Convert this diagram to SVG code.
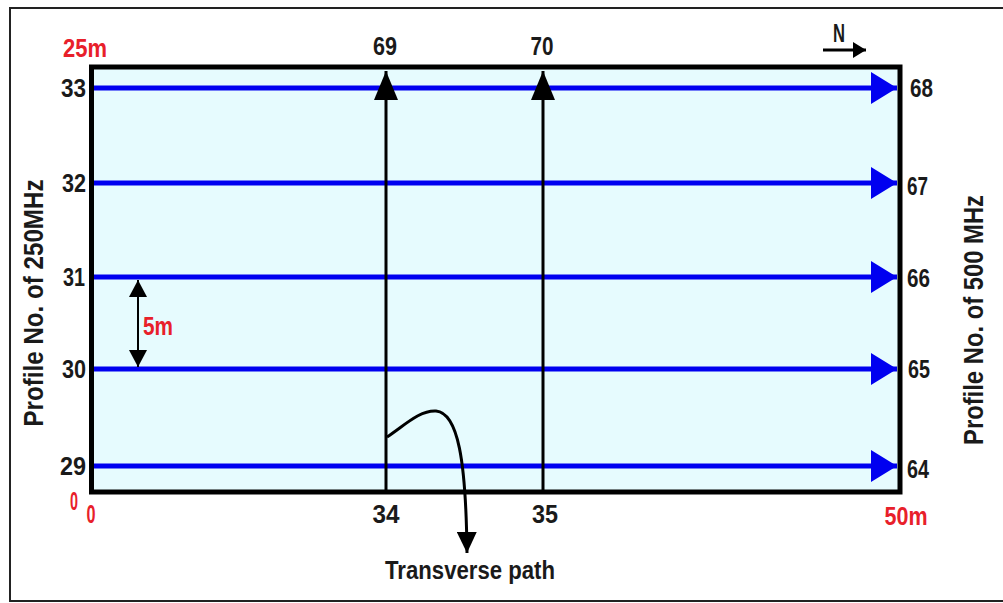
<svg xmlns="http://www.w3.org/2000/svg" width="1003" height="603" viewBox="0 0 1003 603">
<style>
  text { font-family: "Liberation Sans Narrow", "Liberation Sans", Arial, sans-serif; font-weight: bold; }
  .lbl { fill: #1a1a1a; font-size: 26px; }
  .red { fill: #e8202a; font-size: 25px; }
  .axis { fill: #1a1a1a; font-size: 28px; }
  .blue { stroke: #0000f0; stroke-width: 5; fill: none; }
  .blk { stroke: #000; stroke-width: 3; fill: none; }
</style>
<defs>
  <marker id="blueHead" markerUnits="userSpaceOnUse" markerWidth="28" markerHeight="32" refX="26" refY="16" orient="auto" viewBox="0 0 28 32">
    <polygon points="0,0 26,16 0,32" fill="#0000f0"/>
  </marker>
  <marker id="blkHead" markerUnits="userSpaceOnUse" markerWidth="30" markerHeight="24" refX="29" refY="12" orient="auto" viewBox="0 0 30 24">
    <polygon points="0,0 29,12 0,24" fill="#000"/>
  </marker>
  <marker id="pathHead" markerUnits="userSpaceOnUse" markerWidth="22" markerHeight="20" refX="21" refY="10" orient="auto" viewBox="0 0 22 20">
    <polygon points="0,0 21,10 0,20" fill="#000"/>
  </marker>
  <marker id="smallHead" markerUnits="userSpaceOnUse" markerWidth="18" markerHeight="18" refX="17" refY="9" orient="auto" viewBox="0 0 18 18">
    <polygon points="0,0 17,9 0,18" fill="#000"/>
  </marker>
  <marker id="nHead" markerUnits="userSpaceOnUse" markerWidth="14" markerHeight="16" refX="13" refY="8" orient="auto" viewBox="0 0 14 16">
    <polygon points="0,0 13,8 0,16" fill="#000"/>
  </marker>
</defs>

<rect x="0" y="0" width="1003" height="603" fill="#ffffff"/>
<!-- outer frame -->
<rect id="frame" x="10" y="8" width="1000" height="593" fill="none" stroke="#222" stroke-width="2"/>

<!-- survey area -->
<g id="area">
  <rect x="91.5" y="67" width="808.5" height="425" fill="#e6fbfe" stroke="#000" stroke-width="5"/>
</g>

<g id="connectors">
  <!-- 250MHz / 500MHz profiles -->
  <line id="p33" class="blue" x1="94" y1="88" x2="897" y2="88" marker-end="url(#blueHead)"/>
  <line id="p32" class="blue" x1="94" y1="183" x2="897" y2="183" marker-end="url(#blueHead)"/>
  <line id="p31" class="blue" x1="94" y1="277" x2="897" y2="277" marker-end="url(#blueHead)"/>
  <line id="p30" class="blue" x1="94" y1="369" x2="897" y2="369" marker-end="url(#blueHead)"/>
  <line id="p29" class="blue" x1="94" y1="466" x2="897" y2="466" marker-end="url(#blueHead)"/>
  <!-- transverse profiles -->
  <line id="p34" class="blk" x1="386" y1="490" x2="386" y2="71" marker-end="url(#blkHead)"/>
  <line id="p35" class="blk" x1="543" y1="490" x2="543" y2="71" marker-end="url(#blkHead)"/>
  <!-- transverse path curve -->
  <path id="tpath" class="blk" d="M 387 437 C 405 425, 420 410, 436 411 C 458 413, 466 460, 467 553" marker-end="url(#pathHead)"/>
  <!-- 5m spacing -->
  <line id="dim5m" x1="138" y1="290" x2="138" y2="280" stroke="#000" stroke-width="2" marker-end="url(#smallHead)"/>
  <line x1="138" y1="285" x2="138" y2="360" stroke="#000" stroke-width="2"/>
  <line x1="138" y1="355" x2="138" y2="367" stroke="#000" stroke-width="2" marker-end="url(#smallHead)"/>
  <!-- north arrow -->
  <line id="north" x1="823" y1="50" x2="866" y2="50" stroke="#000" stroke-width="3" marker-end="url(#nHead)"/>
</g>

<g id="labels">
  <text class="red" x="63" y="57" textLength="44" lengthAdjust="spacingAndGlyphs">25m</text>
  <text class="lbl" x="385" y="55" text-anchor="middle" textLength="24" lengthAdjust="spacingAndGlyphs">69</text>
  <text class="lbl" x="542" y="55" text-anchor="middle" textLength="23" lengthAdjust="spacingAndGlyphs">70</text>
  <text class="lbl" x="839" y="42" text-anchor="middle" font-size="23" textLength="12" lengthAdjust="spacingAndGlyphs">N</text>

  <text class="lbl" x="86" y="97" text-anchor="end" textLength="25" lengthAdjust="spacingAndGlyphs">33</text>
  <text class="lbl" x="86" y="192" text-anchor="end" textLength="24" lengthAdjust="spacingAndGlyphs">32</text>
  <text class="lbl" x="85" y="286" text-anchor="end" textLength="22" lengthAdjust="spacingAndGlyphs">31</text>
  <text class="lbl" x="86" y="378" text-anchor="end" textLength="24" lengthAdjust="spacingAndGlyphs">30</text>
  <text class="lbl" x="86" y="475" text-anchor="end" textLength="26" lengthAdjust="spacingAndGlyphs">29</text>

  <text class="lbl" x="910" y="97" font-size="24" textLength="23" lengthAdjust="spacingAndGlyphs">68</text>
  <text class="lbl" x="907" y="195" font-size="24" textLength="21" lengthAdjust="spacingAndGlyphs">67</text>
  <text class="lbl" x="907" y="287" font-size="24" textLength="23" lengthAdjust="spacingAndGlyphs">66</text>
  <text class="lbl" x="908" y="378" font-size="24" textLength="22" lengthAdjust="spacingAndGlyphs">65</text>
  <text class="lbl" x="907" y="478" font-size="24" textLength="22" lengthAdjust="spacingAndGlyphs">64</text>

  <text class="red" x="74" y="510" text-anchor="middle" font-size="21" textLength="8" lengthAdjust="spacingAndGlyphs">0</text>
  <text class="red" x="91" y="523" text-anchor="middle" font-size="25" textLength="9" lengthAdjust="spacingAndGlyphs">0</text>
  <text class="lbl" x="386" y="523" text-anchor="middle" textLength="27" lengthAdjust="spacingAndGlyphs">34</text>
  <text class="lbl" x="545" y="523" text-anchor="middle" textLength="26" lengthAdjust="spacingAndGlyphs">35</text>
  <text class="red" x="906" y="525" text-anchor="middle" textLength="43" lengthAdjust="spacingAndGlyphs">50m</text>
  <text class="red" x="143" y="335" font-size="23" textLength="30" lengthAdjust="spacingAndGlyphs">5m</text>

  <text class="lbl" x="470" y="579" text-anchor="middle" textLength="170" lengthAdjust="spacingAndGlyphs">Transverse path</text>

  <text class="axis" transform="translate(43,303) rotate(-90)" text-anchor="middle" textLength="247" lengthAdjust="spacingAndGlyphs">Profile No. of 250MHz</text>
  <text class="axis" transform="translate(983,320) rotate(-90)" text-anchor="middle" textLength="250" lengthAdjust="spacingAndGlyphs">Profile No. of 500 MHz</text>
</g>
</svg>
